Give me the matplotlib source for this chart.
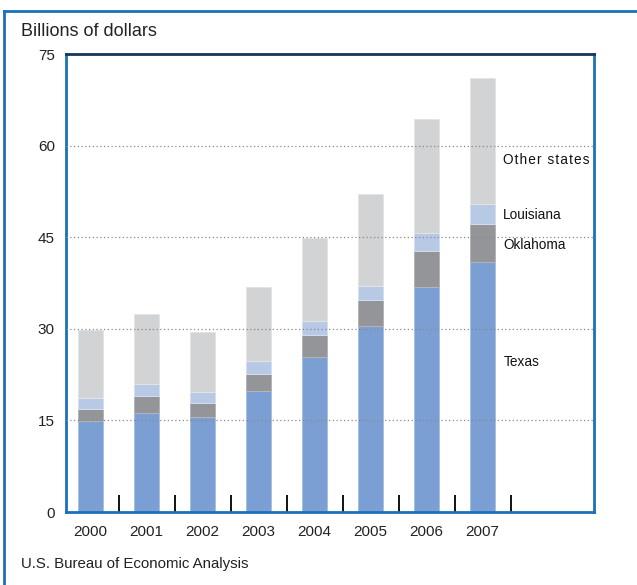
import matplotlib
matplotlib.use("Agg")
import matplotlib.pyplot as plt
from matplotlib.lines import Line2D
import numpy as np

plt.rcParams["font.family"] = ["Liberation Sans", "DejaVu Sans"]

YEARS     = ["2000", "2001", "2002", "2003", "2004", "2005", "2006", "2007"]
TEXAS     = [14.9, 16.2, 15.5, 19.8, 25.4, 30.5, 36.9, 41.0]
OKLAHOMA  = [1.9, 2.8, 2.3, 2.8, 3.6, 4.2, 5.9, 6.2]
LOUISIANA = [1.8, 1.9, 1.8, 2.1, 2.2, 2.3, 2.9, 3.2]
OTHER     = [11.2, 11.5, 9.8, 12.2, 13.6, 15.1, 18.7, 20.6]
SERIES    = ["Texas", "Oklahoma", "Louisiana", "Other states"]
YTICKS    = [0, 15, 30, 45, 60, 75]

COLORS = ["#7b9fd2", "#939598", "#b8c9e6", "#d1d3d4"]
EDGES  = ["#a9c0e3", "#b3b5b8", "#d3deef", "#e3e4e5"]
BLUE   = "#1a70bb"

fig = plt.figure(figsize=(6.37, 5.85), dpi=100)
ax = fig.add_axes([66/637, 73/585, 528/637, 458/585])

x = np.arange(len(YEARS))
bottom = np.zeros(len(YEARS))
for vals, c, ec in zip([TEXAS, OKLAHOMA, LOUISIANA, OTHER], COLORS, EDGES):
    ax.bar(x, vals, width=0.45, bottom=bottom, color=c, edgecolor=ec,
           linewidth=0.7, zorder=2)
    bottom += np.array(vals)

ax.set_xlim(-0.44, 8.99)
ax.set_ylim(0, 75)

for y in YTICKS[1:-1]:
    ax.axhline(y, color="#888888", linestyle=(0, (1, 2)), linewidth=0.9, zorder=3)

ax.set_yticks(YTICKS)
ax.set_yticklabels([str(v) for v in YTICKS], fontsize=11, color="#222222")
ax.tick_params(axis="y", length=0, pad=8)

ax.set_xticks(x)
ax.set_xticklabels(YEARS, fontsize=11, color="#222222")
ax.tick_params(axis="x", which="major", length=0, pad=9)
ax.set_xticks(x + 0.5, minor=True)
ax.tick_params(axis="x", which="minor", direction="in", length=12.5,
               width=1.4, color="#111111")

for side in ["left", "right", "bottom"]:
    ax.spines[side].set_color(BLUE)
    ax.spines[side].set_linewidth(2)
ax.spines["top"].set_color("#14365c")
ax.spines["top"].set_linewidth(2)

# series labels at the right of the last bar
label_y = [24.6, 43.8, 48.7, 57.7]
for name, y in zip(SERIES, label_y):
    if name == "Other states":
        name = "\u200a".join(name)
    ax.text(7.37, y, name, fontsize=9.8, va="center", ha="left",
            color="#111111", zorder=4)

fig.text(21/637, 1 - 32/585, "Billions of dollars", fontsize=13,
         va="center", ha="left", color="#222222")
fig.text(21/637, 1 - 564/585, "U.S. Bureau of Economic Analysis", fontsize=10.8,
         va="center", ha="left", color="#222222")

# outer frame
fig.add_artist(Line2D([4/637, 1], [1 - 11/585, 1 - 11/585], color=BLUE, lw=2,
                      transform=fig.transFigure))
fig.add_artist(Line2D([4/637, 4/637], [0, 1 - 11/585], color=BLUE, lw=2,
                      transform=fig.transFigure))

fig.savefig("out.png", dpi=100)
